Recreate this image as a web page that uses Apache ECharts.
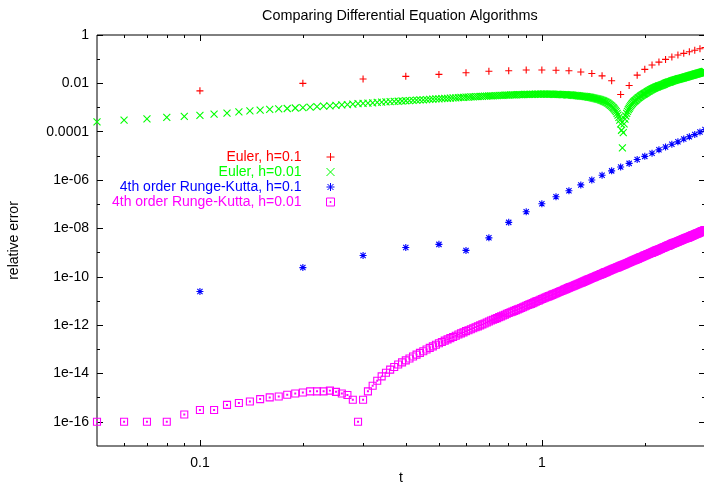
<!DOCTYPE html>
<html>
<head>
<meta charset="utf-8">
<script src="https://cdn.jsdelivr.net/npm/echarts@6/dist/echarts.min.js"></script>
<style>
  html, body { margin: 0; padding: 0; background: #fff; }
  #chart { width: 704px; height: 487px; }
</style>
</head>
<body>
<div id="chart"></div>
<script>
// step times
const tCoarse = [0.1, 0.2, 0.3, 0.4, 0.5, 0.6, 0.7, 0.8, 0.9, 1.0,
  1.1, 1.2, 1.3, 1.4, 1.5, 1.6, 1.7, 1.8, 1.9, 2.0,
  2.1, 2.2, 2.3, 2.4, 2.5, 2.6, 2.7, 2.8, 2.9, 3.0];
const tFine = [0.05, 0.06, 0.07, 0.08, 0.09, 0.10,
  0.11, 0.12, 0.13, 0.14, 0.15, 0.16, 0.17, 0.18, 0.19, 0.20,
  0.21, 0.22, 0.23, 0.24, 0.25, 0.26, 0.27, 0.28, 0.29, 0.30,
  0.31, 0.32, 0.33, 0.34, 0.35, 0.36, 0.37, 0.38, 0.39, 0.40,
  0.41, 0.42, 0.43, 0.44, 0.45, 0.46, 0.47, 0.48, 0.49, 0.50,
  0.51, 0.52, 0.53, 0.54, 0.55, 0.56, 0.57, 0.58, 0.59, 0.60,
  0.61, 0.62, 0.63, 0.64, 0.65, 0.66, 0.67, 0.68, 0.69, 0.70,
  0.71, 0.72, 0.73, 0.74, 0.75, 0.76, 0.77, 0.78, 0.79, 0.80,
  0.81, 0.82, 0.83, 0.84, 0.85, 0.86, 0.87, 0.88, 0.89, 0.90,
  0.91, 0.92, 0.93, 0.94, 0.95, 0.96, 0.97, 0.98, 0.99, 1.00,
  1.01, 1.02, 1.03, 1.04, 1.05, 1.06, 1.07, 1.08, 1.09, 1.10,
  1.11, 1.12, 1.13, 1.14, 1.15, 1.16, 1.17, 1.18, 1.19, 1.20,
  1.21, 1.22, 1.23, 1.24, 1.25, 1.26, 1.27, 1.28, 1.29, 1.30,
  1.31, 1.32, 1.33, 1.34, 1.35, 1.36, 1.37, 1.38, 1.39, 1.40,
  1.41, 1.42, 1.43, 1.44, 1.45, 1.46, 1.47, 1.48, 1.49, 1.50,
  1.51, 1.52, 1.53, 1.54, 1.55, 1.56, 1.57, 1.58, 1.59, 1.60,
  1.61, 1.62, 1.63, 1.64, 1.65, 1.66, 1.67, 1.68, 1.69, 1.70,
  1.71, 1.72, 1.73, 1.74, 1.75, 1.76, 1.77, 1.78, 1.79, 1.80,
  1.81, 1.82, 1.83, 1.84, 1.85, 1.86, 1.87, 1.88, 1.89, 1.90,
  1.91, 1.92, 1.93, 1.94, 1.95, 1.96, 1.97, 1.98, 1.99, 2.00,
  2.01, 2.02, 2.03, 2.04, 2.05, 2.06, 2.07, 2.08, 2.09, 2.10,
  2.11, 2.12, 2.13, 2.14, 2.15, 2.16, 2.17, 2.18, 2.19, 2.20,
  2.21, 2.22, 2.23, 2.24, 2.25, 2.26, 2.27, 2.28, 2.29, 2.30,
  2.31, 2.32, 2.33, 2.34, 2.35, 2.36, 2.37, 2.38, 2.39, 2.40,
  2.41, 2.42, 2.43, 2.44, 2.45, 2.46, 2.47, 2.48, 2.49, 2.50,
  2.51, 2.52, 2.53, 2.54, 2.55, 2.56, 2.57, 2.58, 2.59, 2.60,
  2.61, 2.62, 2.63, 2.64, 2.65, 2.66, 2.67, 2.68, 2.69, 2.70,
  2.71, 2.72, 2.73, 2.74, 2.75, 2.76, 2.77, 2.78, 2.79, 2.80,
  2.81, 2.82, 2.83, 2.84, 2.85, 2.86, 2.87, 2.88, 2.89, 2.90,
  2.91, 2.92, 2.93, 2.94, 2.95, 2.96, 2.97, 2.98, 2.99, 3.00];

// relative errors, stored as log10
const eulerCoarseLog = [-2.31, -2.00, -1.82, -1.71, -1.63, -1.56, -1.50, -1.48, -1.45, -1.45,
  -1.46, -1.48, -1.53, -1.59, -1.69, -1.89, -2.46, -2.09, -1.66, -1.42,
  -1.24, -1.12, -1.01, -0.91, -0.83, -0.76, -0.69, -0.63, -0.57, -0.52];

const eulerFineLog = [-3.59, -3.52, -3.47, -3.41, -3.37, -3.32,
  -3.27, -3.23, -3.18, -3.14, -3.11, -3.08, -3.06, -3.04, -3.02, -3.00,
  -2.98, -2.96, -2.94, -2.93, -2.91, -2.89, -2.88, -2.86, -2.84, -2.83,
  -2.82, -2.81, -2.79, -2.78, -2.77, -2.76, -2.75, -2.74, -2.73, -2.72,
  -2.71, -2.70, -2.69, -2.68, -2.68, -2.67, -2.66, -2.65, -2.64, -2.64,
  -2.63, -2.62, -2.62, -2.61, -2.60, -2.60, -2.59, -2.58, -2.58, -2.57,
  -2.57, -2.56, -2.56, -2.55, -2.55, -2.54, -2.54, -2.53, -2.53, -2.52,
  -2.52, -2.52, -2.51, -2.51, -2.50, -2.50, -2.50, -2.49, -2.49, -2.49,
  -2.48, -2.48, -2.48, -2.48, -2.47, -2.47, -2.47, -2.47, -2.46, -2.46,
  -2.46, -2.46, -2.46, -2.46, -2.46, -2.45, -2.45, -2.45, -2.45, -2.45,
  -2.45, -2.45, -2.45, -2.45, -2.45, -2.45, -2.45, -2.46, -2.46, -2.46,
  -2.46, -2.46, -2.46, -2.47, -2.47, -2.47, -2.47, -2.48, -2.48, -2.48,
  -2.48, -2.49, -2.49, -2.50, -2.50, -2.51, -2.51, -2.52, -2.52, -2.53,
  -2.53, -2.54, -2.54, -2.55, -2.55, -2.56, -2.57, -2.57, -2.58, -2.59,
  -2.60, -2.61, -2.62, -2.63, -2.64, -2.65, -2.66, -2.67, -2.69, -2.70,
  -2.72, -2.74, -2.76, -2.78, -2.80, -2.82, -2.85, -2.88, -2.91, -2.94,
  -2.98, -3.02, -3.07, -3.12, -3.17, -3.24, -3.31, -3.41, -3.52, -3.68,
  -3.94, -4.67, -4.04, -3.68, -3.48, -3.35, -3.24, -3.16, -3.09, -3.03,
  -2.97, -2.92, -2.87, -2.83, -2.79, -2.76, -2.73, -2.70, -2.67, -2.64,
  -2.61, -2.59, -2.57, -2.54, -2.52, -2.50, -2.48, -2.46, -2.44, -2.42,
  -2.40, -2.38, -2.36, -2.34, -2.32, -2.31, -2.29, -2.27, -2.26, -2.24,
  -2.23, -2.21, -2.20, -2.19, -2.17, -2.16, -2.15, -2.14, -2.12, -2.11,
  -2.10, -2.09, -2.08, -2.07, -2.06, -2.05, -2.04, -2.03, -2.01, -2.00,
  -1.99, -1.98, -1.97, -1.96, -1.95, -1.95, -1.94, -1.93, -1.92, -1.91,
  -1.90, -1.89, -1.88, -1.88, -1.87, -1.86, -1.85, -1.85, -1.84, -1.83,
  -1.82, -1.81, -1.81, -1.80, -1.79, -1.79, -1.78, -1.77, -1.77, -1.76,
  -1.75, -1.75, -1.74, -1.73, -1.73, -1.72, -1.71, -1.71, -1.70, -1.69,
  -1.69, -1.68, -1.67, -1.67, -1.66, -1.66, -1.65, -1.64, -1.64, -1.63,
  -1.62, -1.62, -1.61, -1.61, -1.60, -1.59, -1.59, -1.58, -1.58, -1.57,
  -1.56, -1.56, -1.55, -1.55, -1.54, -1.53, -1.53, -1.52, -1.52, -1.51];

const rkCoarseLog = [-10.61, -9.62, -9.12, -8.79, -8.66, -8.91, -8.39, -7.75, -7.31, -6.98,
  -6.69, -6.44, -6.20, -6.00, -5.80, -5.62, -5.46, -5.31, -5.15, -5.02,
  -4.89, -4.75, -4.63, -4.52, -4.42, -4.30, -4.21, -4.12, -4.01, -3.91];

const rkFineLog = [-16.0, -16.0, -16.0, -16.0, -15.70, -15.51,
  -15.51, -15.30, -15.22, -15.16, -15.06, -14.99, -14.95, -14.88, -14.83, -14.79,
  -14.74, -14.74, -14.74, -14.71, -14.76, -14.83, -14.89, -15.09, -16.0, -15.09,
  -14.74, -14.51, -14.30, -14.12, -13.97, -13.84, -13.73, -13.63, -13.54, -13.46,
  -13.38, -13.30, -13.22, -13.15, -13.08, -13.01, -12.94, -12.88, -12.81, -12.75,
  -12.70, -12.64, -12.59, -12.54, -12.49, -12.44, -12.39, -12.34, -12.30, -12.25,
  -12.21, -12.17, -12.13, -12.09, -12.05, -12.01, -11.97, -11.93, -11.89, -11.85,
  -11.81, -11.78, -11.74, -11.71, -11.67, -11.64, -11.60, -11.57, -11.53, -11.50,
  -11.47, -11.44, -11.41, -11.38, -11.35, -11.32, -11.29, -11.26, -11.23, -11.20,
  -11.17, -11.14, -11.12, -11.09, -11.06, -11.03, -11.00, -10.98, -10.95, -10.92,
  -10.90, -10.87, -10.85, -10.82, -10.80, -10.78, -10.75, -10.73, -10.70, -10.68,
  -10.66, -10.63, -10.61, -10.59, -10.57, -10.54, -10.52, -10.50, -10.47, -10.45,
  -10.43, -10.41, -10.39, -10.37, -10.35, -10.33, -10.31, -10.29, -10.27, -10.25,
  -10.23, -10.21, -10.19, -10.17, -10.15, -10.13, -10.11, -10.09, -10.07, -10.05,
  -10.03, -10.02, -10.00, -9.98, -9.96, -9.95, -9.93, -9.91, -9.89, -9.88,
  -9.86, -9.84, -9.82, -9.81, -9.79, -9.77, -9.75, -9.74, -9.72, -9.70,
  -9.69, -9.67, -9.66, -9.64, -9.63, -9.61, -9.60, -9.58, -9.57, -9.55,
  -9.54, -9.52, -9.51, -9.49, -9.48, -9.46, -9.45, -9.43, -9.42, -9.40,
  -9.39, -9.37, -9.36, -9.34, -9.33, -9.32, -9.30, -9.29, -9.27, -9.26,
  -9.25, -9.23, -9.22, -9.20, -9.19, -9.18, -9.16, -9.15, -9.13, -9.12,
  -9.11, -9.10, -9.08, -9.07, -9.06, -9.05, -9.03, -9.02, -9.01, -9.00,
  -8.98, -8.97, -8.96, -8.95, -8.93, -8.92, -8.91, -8.90, -8.88, -8.87,
  -8.86, -8.85, -8.84, -8.82, -8.81, -8.80, -8.79, -8.78, -8.77, -8.76,
  -8.74, -8.73, -8.72, -8.71, -8.70, -8.69, -8.68, -8.67, -8.65, -8.64,
  -8.63, -8.62, -8.61, -8.60, -8.59, -8.58, -8.57, -8.56, -8.55, -8.54,
  -8.53, -8.52, -8.51, -8.50, -8.49, -8.48, -8.47, -8.46, -8.45, -8.44,
  -8.43, -8.42, -8.41, -8.40, -8.39, -8.39, -8.38, -8.37, -8.36, -8.35,
  -8.34, -8.33, -8.32, -8.31, -8.30, -8.29, -8.28, -8.27, -8.26, -8.25,
  -8.24, -8.23, -8.22, -8.21, -8.21, -8.20, -8.19, -8.18, -8.17, -8.16,
  -8.15, -8.14, -8.13, -8.12, -8.12, -8.11, -8.10, -8.09, -8.08, -8.07];

// ticks
const xMajorTicks = [0.1, 1];
const xMajorLabels = ["0.1", "1"];
const xMinorTicks = [0.06, 0.07, 0.08, 0.09, 0.2, 0.3, 0.4, 0.5, 0.6, 0.7, 0.8, 0.9, 2, 3];
const yMajorTicks = [1e-16, 1e-14, 1e-12, 1e-10, 1e-8, 1e-6, 1e-4, 1e-2, 1];
const yMajorLabels = ["1e-16", "1e-14", "1e-12", "1e-10", "1e-08", "1e-06", "0.0001", "0.01", "1"];
const yMinorTicks = [1e-15, 1e-13, 1e-11, 1e-9, 1e-7, 1e-5, 1e-3, 1e-1];

const seriesNames = ["Euler, h=0.1", "Euler, h=0.01", "4th order Runge-Kutta, h=0.1", "4th order Runge-Kutta, h=0.01"];
const seriesColors = ["#ff0000", "#00ff00", "#0000ff", "#ff00ff"];

const FONT = "Liberation Sans, Arial, Helvetica, sans-serif";
const symbols = [
  "path://M0,4L8,4M4,0L4,8",
  "path://M0,0L8,8M8,0L0,8",
  "path://M0,4L8,4M4,0L4,8M1,1L7,7M7,1L1,7",
  "path://M0,0L8,0L8,8L0,8ZM3.5,3.5L4.5,3.5L4.5,4.5L3.5,4.5Z"
];

function toPoints(ts, logs) {
  return ts.map((t, i) => [t, Math.pow(10, logs[i])]);
}

function pickLabel(ticks, labels) {
  return function (v) {
    let best = 0;
    ticks.forEach((tk, i) => {
      if (Math.abs(Math.log10(tk) - Math.log10(v)) < Math.abs(Math.log10(ticks[best]) - Math.log10(v))) best = i;
    });
    return labels[best];
  };
}

function xAxisDef(pos, ticks, len, labels) {
  return {
    type: "log", logBase: 10, min: 0.05, max: 3, position: pos,
    axisLine: { show: false },
    splitLine: { show: false },
    axisTick: { show: true, inside: true, length: len, customValues: ticks, lineStyle: { color: "#000", width: 1 } },
    axisLabel: labels ? {
      show: true, customValues: ticks, color: "#000", fontSize: 14, fontFamily: FONT, margin: 10,
      formatter: pickLabel(xMajorTicks, xMajorLabels)
    } : { show: false },
    name: labels ? "t" : "", nameLocation: "middle", nameGap: 25, nameMoveOverlap: false,
    nameTextStyle: { color: "#000", fontSize: 14, fontFamily: FONT }
  };
}

function yAxisDef(pos, ticks, len, labels) {
  return {
    type: "log", logBase: 10, min: 1e-17, max: 1, position: pos,
    axisLine: { show: false },
    splitLine: { show: false },
    axisTick: { show: true, inside: true, length: len, customValues: ticks, lineStyle: { color: "#000", width: 1 } },
    axisLabel: labels ? {
      show: true, customValues: ticks, color: "#000", fontSize: 14, fontFamily: FONT, margin: 8,
      formatter: pickLabel(yMajorTicks, yMajorLabels)
    } : { show: false },
    name: labels ? "relative error" : "", nameLocation: "middle", nameGap: 76, nameRotate: 90, nameMoveOverlap: false,
    nameTextStyle: { color: "#000", fontSize: 14, fontFamily: FONT }
  };
}

const chart = echarts.init(document.getElementById("chart"), null, { renderer: "canvas" });

const pointSets = [
  toPoints(tCoarse, eulerCoarseLog),
  toPoints(tFine, eulerFineLog),
  toPoints(tCoarse, rkCoarseLog),
  toPoints(tFine, rkFineLog)
];

chart.setOption({
  animation: false,
  backgroundColor: "#fff",
  title: {
    text: "Comparing Differential Equation Algorithms",
    left: 257, top: 4,
    textStyle: { color: "#000", fontSize: 14.4, fontWeight: "normal", fontFamily: FONT }
  },
  grid: {
    left: 97, right: -1, top: 35, bottom: 41, show: true,
    borderColor: "#000", borderWidth: 1, backgroundColor: "transparent",
    outerBoundsMode: "none", containLabel: false
  },
  legend: {
    orient: "vertical", align: "right", right: 369, top: 150, padding: 0, itemGap: 1,
    itemWidth: 48, itemHeight: 8, symbolKeepAspect: true, selectedMode: false,
    textStyle: { fontSize: 14, fontFamily: FONT },
    data: seriesNames.map((n, i) => ({
      name: n, icon: symbols[i],
      itemStyle: { color: "transparent", borderColor: seriesColors[i], borderWidth: 1 },
      textStyle: { color: seriesColors[i], fontSize: 14, fontFamily: FONT }
    }))
  },
  xAxis: [
    xAxisDef("bottom", xMajorTicks, 6, true),
    xAxisDef("bottom", xMinorTicks, 3, false),
    xAxisDef("top", xMajorTicks, 6, false),
    xAxisDef("top", xMinorTicks, 3, false)
  ],
  yAxis: [
    yAxisDef("left", yMajorTicks, 6, true),
    yAxisDef("left", yMinorTicks, 3, false),
    yAxisDef("right", yMajorTicks, 6, false),
    yAxisDef("right", yMinorTicks, 3, false)
  ],
  series: seriesNames.map((n, i) => ({
    name: n, type: "scatter", xAxisIndex: 0, yAxisIndex: 0,
    data: pointSets[i], symbol: symbols[i], symbolSize: 7,
    itemStyle: { color: "transparent", borderColor: seriesColors[i], borderWidth: 1.1, opacity: 1 },
    silent: true, clip: false
  }))
});
</script>
</body>
</html>
